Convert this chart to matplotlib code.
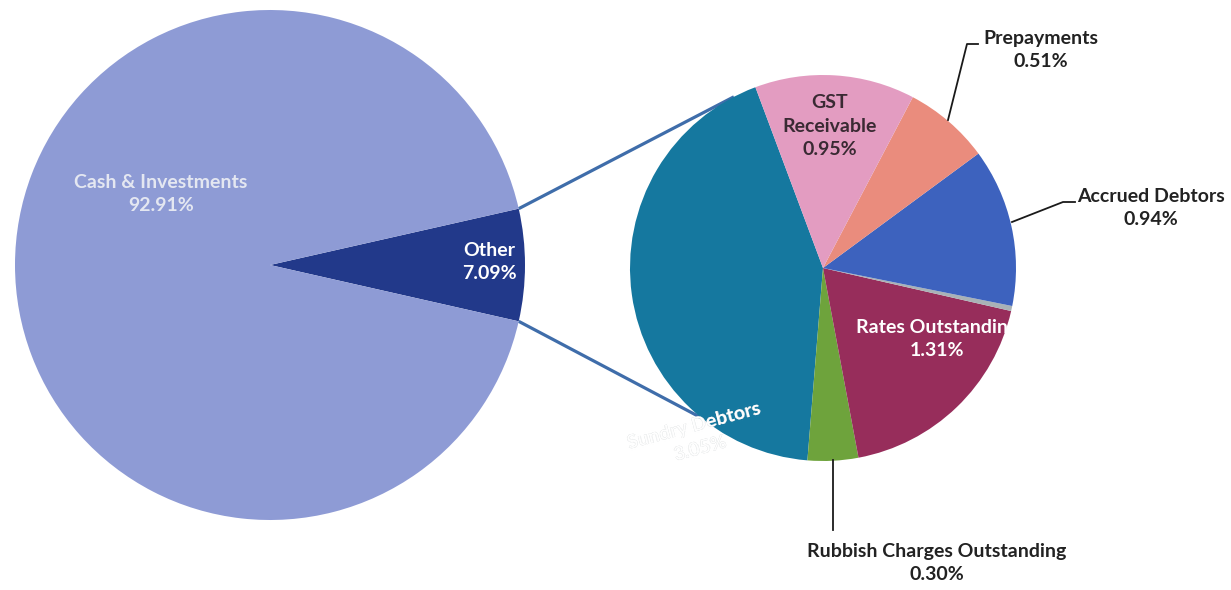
import numpy as np
import matplotlib
matplotlib.use("Agg")
import matplotlib.pyplot as plt
from matplotlib.transforms import Bbox, TransformedBbox

# Main split of total assets
main_labels = ["Other", "Cash & Investments"]
main_values = [7.09, 92.91]
main_colors = ["#22398A", "#8E9BD5"]

# Breakdown of "Other" (percent of total)
sub_labels = ["Sundry Debtors", "Rubbish Charges Outstanding", "Rates Outstanding",
              "", "Accrued Debtors", "Prepayments", "GST Receivable"]
sub_values = [3.05, 0.30, 1.31, 0.03, 0.94, 0.51, 0.95]
sub_colors = ["#15789F", "#6EA33C", "#972D5B", "#A9B2B6", "#3D62BE", "#EA8C7D", "#E39CC1"]

W, H = 1231, 590
fig = plt.figure(figsize=(W / 100, H / 100), dpi=100)
ax = fig.add_axes([0, 0, 1, 1])

FONT = ["Lato", "DejaVu Sans"]
FS = 14

# geometry (pixel-like data units, y up)
lc, lr = (270, H - 265), 255
rc, rr = (823, H - 268), 193
half = main_values[0] / 100 * 180

# connector lines from the "Other" slice to the breakdown pie
for a_left, a_right in [(half, 117.5), (-half, 230.9)]:
    p0 = (lc[0] + lr * np.cos(np.radians(a_left)), lc[1] + lr * np.sin(np.radians(a_left)))
    p1 = (rc[0] + rr * np.cos(np.radians(a_right)), rc[1] + rr * np.sin(np.radians(a_right)))
    ax.plot([p0[0], p1[0]], [p0[1], p1[1]], color="#3F6DAA", lw=2.3, zorder=1,
            solid_capstyle="butt")

ax.pie(main_values, colors=main_colors, center=lc, radius=lr, startangle=-half,
       counterclock=True, wedgeprops=dict(linewidth=0, zorder=2))
wedges, _ = ax.pie(sub_values, colors=sub_colors, center=rc, radius=rr,
                   startangle=110.5, counterclock=True,
                   wedgeprops=dict(linewidth=0, zorder=3))
for w in ax.patches:
    w.set_zorder(3)

ax.set_xlim(0, W)
ax.set_ylim(0, H)
ax.set_aspect("auto")
ax.axis("off")


def label(x, y, s, color, **kw):
    return ax.text(x, H - y, s, ha="center", va="center", color=color, fontsize=FS,
                   fontweight="bold", family=FONT, linespacing=1.45, zorder=6, **kw)


label(161, 194, f"{main_labels[1]}\n{main_values[1]:.2f}%", "#E4E7F1")
label(489, 262, f"{main_labels[0]}\n{main_values[0]:.2f}%", "white")
label(830, 126, f"GST\nReceivable\n{sub_values[6]:.2f}%", "#3A2A33")
label(1041, 50, f"{sub_labels[5]}\n{sub_values[5]:.2f}%", "#222222")
label(1151, 208, f"{sub_labels[4]}\n{sub_values[4]:.2f}%", "#222222")
label(937, 563, f"{sub_labels[1]}\n{sub_values[1]:.2f}%", "#222222")

rates = label(937, 339, f"{sub_labels[2]}\n{sub_values[2]:.2f}%", "white")
rates.set_clip_box(TransformedBbox(Bbox([[0, 0], [1012 / W, 1]]), fig.transFigure))
rates.set_clip_on(True)

sundry_txt = f"{sub_labels[0]}\n{sub_values[0]:.2f}%"
label(697, 437, sundry_txt, "#C3C8CA", rotation=15, rotation_mode="anchor")
inner = label(697, 437, sundry_txt, "white", rotation=15, rotation_mode="anchor")
inner.set_clip_path(wedges[0])

# leader lines
leaders = [
    [(978, 44), (967, 44), (948, 120)],
    [(1075, 202), (1063, 202), (1012, 222)],
    [(833, 460), (833, 530)],
]
for pts in leaders:
    xs = [p[0] for p in pts]
    ys = [H - p[1] for p in pts]
    ax.plot(xs, ys, color="#1A1A1A", lw=1.3, zorder=5)

fig.savefig("out.png", dpi=100, facecolor="white")
